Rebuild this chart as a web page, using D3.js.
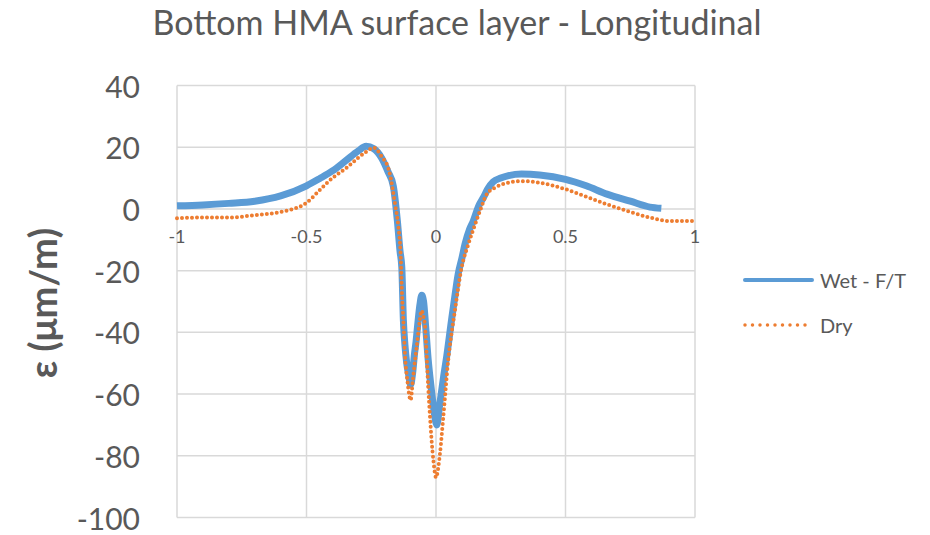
<!DOCTYPE html>
<html>
<head>
<meta charset="utf-8">
<script src="https://cdn.jsdelivr.net/npm/d3@7"></script>
<style>
  body { margin: 0; background: #fff; }
  text { font-family: Lato, "Open Sans", sans-serif; fill: #595959; }
</style>
</head>
<body>
<svg id="chart" width="930" height="535"></svg>
<script>
// x positions (m) and strains
const wetX = [-1, -0.9, -0.8, -0.7, -0.6, -0.5, -0.45, -0.4, -0.35, -0.3, -0.27, -0.24, -0.21, -0.185, -0.165, -0.149, -0.139, -0.132,
  -0.126, -0.12, -0.113, -0.105, -0.098, -0.09, -0.083, -0.077, -0.07, -0.062, -0.055, -0.048, -0.04, -0.03, -0.02, -0.01, 0.003,
  0.015, 0.03, 0.041, 0.06, 0.075, 0.086, 0.1, 0.112, 0.13, 0.144, 0.165, 0.183, 0.2, 0.221, 0.25, 0.28, 0.33, 0.4, 0.5, 0.58, 0.66, 0.75, 0.826, 0.87];
const wetY = [1, 1.3, 1.8, 2.5, 4.2, 7.5, 9.8, 12.3, 15.5, 18.8, 20.3, 19.5, 16.5, 12, 7.5, -4, -13.6, -19,
  -36, -44, -50, -54, -57, -53, -47, -43, -37, -31, -28, -30, -38, -49, -57, -64, -70,
  -63, -54, -48, -36, -27, -21, -16, -11.4, -6.5, -3.9, 1, 3.7, 6.5, 8.8, 10, 10.8, 11.3, 11, 9.6, 7.5, 4.8, 2.5, 0.6, 0.2];

const dryX = [-1, -0.9, -0.8, -0.7, -0.6, -0.5, -0.45, -0.4, -0.35, -0.3, -0.27, -0.24, -0.21, -0.18, -0.158, -0.145, -0.136, -0.132,
  -0.125, -0.12, -0.11, -0.098, -0.09, -0.081, -0.075, -0.064, -0.056, -0.048, -0.042, -0.039, -0.03, -0.023, -0.017, -0.01, 0,
  0.015, 0.028, 0.047, 0.073, 0.099, 0.125, 0.151, 0.17, 0.196, 0.23, 0.27, 0.33, 0.4, 0.5, 0.58, 0.66, 0.75, 0.826, 0.9, 1];
const dryY = [-3, -2.8, -2.8, -2, -1, 2, 6, 10, 13, 16.6, 18.5, 19.8, 17, 12, 1.5, -6, -15.8, -26,
  -38, -47, -56, -62, -56, -49, -45, -37, -33, -35, -38.4, -42.8, -57.9, -67.6, -75, -81.6, -87,
  -79.5, -67.6, -49.2, -33, -19, -11.4, -5, -0.6, 4.8, 7, 8.3, 9, 8.5, 6.4, 4, 1.5, -1, -2.8, -3.9, -3.9];

const xTicks = [-1, -0.5, 0, 0.5, 1];
const yTicks = [40, 20, 0, -20, -40, -60, -80, -100];

const svg = d3.select("#chart");

const x = d3.scaleLinear().domain([-1, 1]).range([177, 695]);
const y = d3.scaleLinear().domain([-100, 40]).range([517.5, 85.5]);

// grid
svg.append("g").selectAll("line.h")
  .data(yTicks).enter().append("line")
  .attr("x1", x(-1)).attr("x2", x(1))
  .attr("y1", d => y(d)).attr("y2", d => y(d))
  .attr("stroke", "#d9d9d9").attr("stroke-width", 1.5);

svg.append("g").selectAll("line.v")
  .data(xTicks).enter().append("line")
  .attr("x1", d => x(d)).attr("x2", d => x(d))
  .attr("y1", y(40)).attr("y2", y(-100))
  .attr("stroke", "#d9d9d9").attr("stroke-width", 1.5);

// y tick labels
svg.append("g").selectAll("text")
  .data(yTicks).enter().append("text")
  .attr("x", 140).attr("y", d => y(d))
  .attr("text-anchor", "end").attr("dominant-baseline", "central")
  .style("font-size", "30px")
  .text(d => d);

// x tick labels just under the zero line
svg.append("g").selectAll("text")
  .data(xTicks).enter().append("text")
  .attr("x", d => x(d)).attr("y", y(0) + 34)
  .attr("text-anchor", "middle")
  .style("font-size", "18px")
  .text(d => d);

const line = d3.line().curve(d3.curveMonotoneX);

const wet = wetX.map((d, i) => [x(d), y(wetY[i])]);
const dry = dryX.map((d, i) => [x(d), y(dryY[i])]);

svg.append("path")
  .attr("d", line(wet))
  .attr("fill", "none")
  .attr("stroke", "#5b9bd5")
  .attr("stroke-width", 7)
  .attr("stroke-linejoin", "round");

svg.append("path")
  .attr("d", line(dry))
  .attr("fill", "none")
  .attr("stroke", "#ed7d31")
  .attr("stroke-width", 4)
  .attr("stroke-linecap", "round")
  .attr("stroke-dasharray", "0 5");

// title
svg.append("text")
  .attr("x", 457).attr("y", 35)
  .attr("text-anchor", "middle")
  .style("font-size", "34px")
  .text("Bottom HMA surface layer - Longitudinal");

// y axis title
svg.append("text")
  .attr("transform", "translate(42,303) rotate(-90)")
  .attr("text-anchor", "middle").attr("dominant-baseline", "central")
  .style("font-size", "38px").style("font-weight", "bold")
  .text("ε (μm/m)");

// legend
const legend = [
  { name: "Wet - F/T", color: "#5b9bd5", dash: null, w: 4, y: 280 },
  { name: "Dry", color: "#ed7d31", dash: "0 7.5", w: 3.5, y: 325 }
];
const lg = svg.append("g").selectAll("g").data(legend).enter().append("g");
lg.append("line")
  .attr("x1", 745).attr("x2", 812)
  .attr("y1", d => d.y).attr("y2", d => d.y)
  .attr("stroke", d => d.color)
  .attr("stroke-width", d => d.w)
  .attr("stroke-linecap", "round")
  .attr("stroke-dasharray", d => d.dash);
lg.append("text")
  .attr("x", 820).attr("y", d => d.y)
  .attr("dominant-baseline", "central")
  .style("font-size", "20px")
  .text(d => d.name);
</script>
</body>
</html>
